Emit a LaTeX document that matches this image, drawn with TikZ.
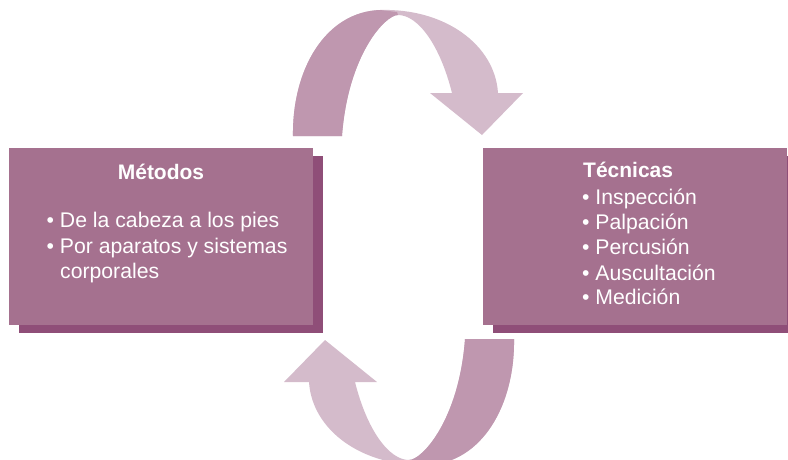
\documentclass[tikz,border=0pt]{standalone}
\usepackage{fontspec}
\setmainfont{Liberation Sans}
\usetikzlibrary{shadows}
\definecolor{panelfill}{HTML}{A5718F}
\definecolor{panelshade}{HTML}{8F4E78}
\definecolor{arrowdark}{HTML}{BF97AF}
\definecolor{arrowlight}{HTML}{D4BBCB}
\tikzstyle{panel}=[rectangle,fill=panelfill,draw=none,minimum width=304pt,minimum height=177pt,inner sep=0pt,copy shadow={shadow xshift=10pt,shadow yshift=-8pt,fill=panelshade,draw=none}]
\tikzstyle{heading}=[font=\fontsize{21}{25}\selectfont\bfseries,text=white,inner sep=0pt]
\tikzstyle{item}=[font=\fontsize{21.2}{25}\selectfont,text=white,inner sep=0pt,anchor=base west]

\begin{document}
\begin{tikzpicture}[x=1pt,y=-1pt]
    \useasboundingbox (0,0) rectangle (788,459);
    % Draw the two cycle arrows, the lower one is the upper one turned round
    \foreach \ang in {0,180} {
        \begin{scope}[rotate around={\ang:(403.5,237.5)}]
        \fill[arrowlight] (293,136) .. controls (292,70) and (325,12) .. (380,10)
            .. controls (445,8) and (495,45) .. (498,93) -- (523,93) -- (482,135)
            -- (430,93) -- (452,93) .. controls (440,45) and (418,15) .. (398,15)
            .. controls (385,15) and (348,55) .. (342,136) -- cycle;
        \fill[arrowdark] (293,136) .. controls (292,70) and (325,12) .. (380,10)
            -- (397,12) -- (398,15) .. controls (385,15) and (348,55) .. (342,136) -- cycle;
        \end{scope}
    }

    % Then the panels
    \foreach \pos/\name in {{(161,236.5)/metodos},{(635,236.5)/tecnicas}}
        \node[panel] (\name) at \pos {};

    \node[heading,anchor=base] (metodostit) at (161,179) {Métodos};
    \node[heading,anchor=base west] (tecnicastit) at (583,177) {Técnicas};

    % List of each panel
    \foreach \y/\txt/\name in {227/{• De la cabeza a los pies}/ma, 253/{• Por aparatos y sistemas}/mb}
        \node[item] (\name) at (46.5,\y) {\txt};
    \node[item] (mc) at (60,278) {corporales};

    \foreach \y/\txt/\name in {204/Inspección/ta, 229/Palpación/tb, 254/Percusión/tc, 280/Auscultación/td, 304/Medición/te}
        \node[item] (\name) at (582,\y) {• \txt};
\end{tikzpicture}
\end{document}
